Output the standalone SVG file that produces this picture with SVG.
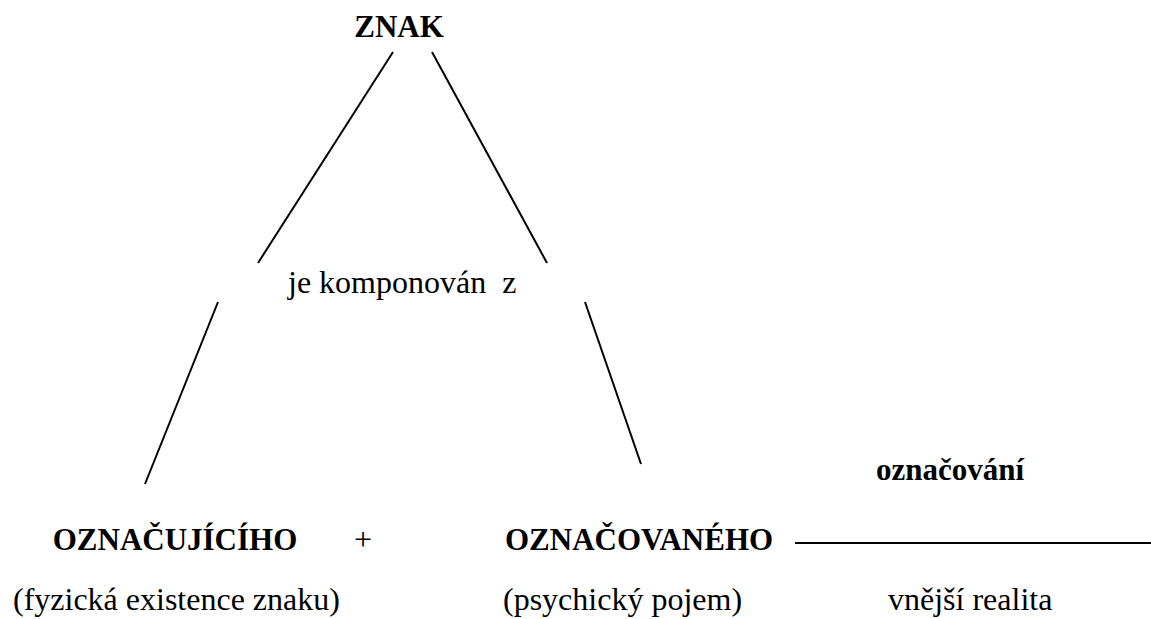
<svg xmlns="http://www.w3.org/2000/svg" width="1151" height="619" viewBox="0 0 1151 619">
<defs>
<style>
.ln{stroke:#000;stroke-width:2;fill:none}
.t{font-family:'Liberation Serif',serif;fill:#000}
.b{font-weight:bold;font-size:31px}
.r{font-size:32px}
</style>
</defs>
<rect width="1151" height="619" fill="#fff"/>
<g id="connectors">
<line class="ln" x1="393" y1="52" x2="258" y2="263"/>
<line class="ln" x1="432" y1="52" x2="547" y2="263"/>
<line class="ln" x1="218" y1="302" x2="145" y2="484"/>
<line class="ln" x1="585" y1="302" x2="641" y2="464"/>
<line class="ln" x1="795" y1="543" x2="1151" y2="543"/>
</g>
<g id="znak"><text class="t b" x="399" y="37" text-anchor="middle">ZNAK</text></g>
<g id="komponovan"><text class="t r" x="288" y="293" xml:space="preserve">je komponován  z</text></g>
<g id="oznacujiciho">
<text class="t b" x="175" y="550" text-anchor="middle">OZNAČUJÍCÍHO</text>
<text class="t r" x="13" y="610">(fyzická existence znaku)</text>
</g>
<g id="plus"><text class="t r" x="363" y="550" text-anchor="middle">+</text></g>
<g id="oznacovaneho">
<text class="t b" x="505" y="550">OZNAČOVANÉHO</text>
<text class="t r" x="503" y="610">(psychický pojem)</text>
</g>
<g id="oznacovani"><text class="t b" x="950" y="480" text-anchor="middle">označování</text></g>
<g id="realita"><text class="t r" x="888" y="610">vnější realita</text></g>
</svg>
